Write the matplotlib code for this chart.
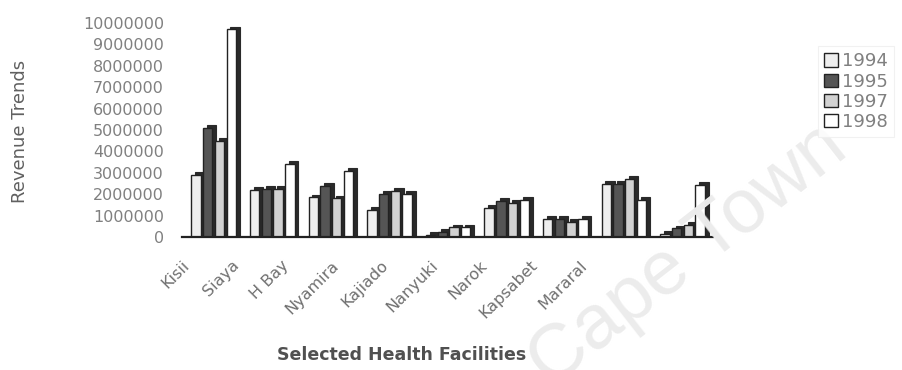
import matplotlib
matplotlib.use("Agg")
import matplotlib.pyplot as plt
import numpy as np

categories = ["Kisii", "Siaya", "H Bay", "Nyamira", "Kajiado", "Nanyuki", "Narok", "Kapsabet", "Mararal"]
years = ["1994", "1995", "1997", "1998"]
rev_1994 = [2900000, 2200000, 1850000, 1250000, 100000, 1350000, 850000, 2500000, 150000]
rev_1995 = [5100000, 2250000, 2400000, 2000000, 250000, 1700000, 850000, 2500000, 400000]
rev_1997 = [4500000, 2250000, 1800000, 2150000, 450000, 1600000, 700000, 2700000, 550000]
rev_1998 = [9700000, 3400000, 3100000, 2000000, 450000, 1750000, 850000, 1750000, 2450000]
series = [rev_1994, rev_1995, rev_1997, rev_1998]
yticks = [0, 1000000, 2000000, 3000000, 4000000, 5000000, 6000000, 7000000, 8000000, 9000000, 10000000]

face_colors = ["#eeeeee", "#555555", "#d2d2d2", "#ffffff"]

W, H = 903, 370
fig = plt.figure(figsize=(W / 100, H / 100), dpi=100)

# watermark (behind everything)
fig.text(688 / W, 1 - 256 / H, "Cape Town", rotation=38, ha="center", va="center",
         color="#ececec", fontsize=55, family="Liberation Sans", zorder=0)

ax = fig.add_axes([182 / W, 1 - 237 / H, 531 / W, (237 - 23) / H])
ax.patch.set_alpha(0)

x = np.arange(len(categories))
step = 0.2
bw = 0.16
dx = 0.065
dy = 130000
handles = []
for i, vals in enumerate(series):
    xs = x - 0.4 + step / 2 + i * step - 0.02
    ax.bar(xs + dx, np.array(vals) + dy, width=bw, color="#2a2a2a", edgecolor="#2a2a2a",
           linewidth=0.8, zorder=2 + 2 * i)
    b = ax.bar(xs, vals, width=bw, color=face_colors[i], edgecolor="#222222",
               linewidth=1.0, zorder=3 + 2 * i)
    handles.append(b)

ax.set_xlim(-0.5, len(categories) - 0.5)
ax.set_ylim(0, 10000000)
for s in ["top", "right", "left"]:
    ax.spines[s].set_visible(False)
ax.spines["bottom"].set_color("#222222")
ax.spines["bottom"].set_linewidth(1.6)
ax.spines["bottom"].set_zorder(20)

ax.set_yticks(yticks)
ax.set_yticklabels([str(v) for v in yticks], color="#808080", fontsize=11.5)
ax.tick_params(axis="y", length=0, pad=13)

label_pos = x * 0.847 - 0.56
ax.set_xticks(label_pos)
ax.set_xticklabels(categories, rotation=45, ha="right", rotation_mode="anchor",
                   color="#707070", fontsize=11.5)
ax.tick_params(axis="x", length=0, pad=15)

fig.text(20 / W, 1 - 131 / H, "Revenue Trends", rotation=90, ha="center", va="center",
         color="#606060", fontsize=13)
fig.text(402 / W, 1 - 355 / H, "Selected Health Facilities", ha="center", va="center",
         color="#505050", fontsize=12.5, fontweight="bold")

leg = fig.legend([h[0] for h in handles], years, loc="upper left",
                 bbox_to_anchor=(809 / W, 1 - 37 / H), frameon=True, fontsize=13,
                 handlelength=0.75, handleheight=0.75, handletextpad=0.2,
                 labelspacing=0.12, borderpad=0.35, fancybox=False)
leg.get_frame().set_edgecolor("#eeeeee")
leg.get_frame().set_linewidth(0.8)
for t in leg.get_texts():
    t.set_color("#808080")

fig.savefig("out.png", dpi=100)
